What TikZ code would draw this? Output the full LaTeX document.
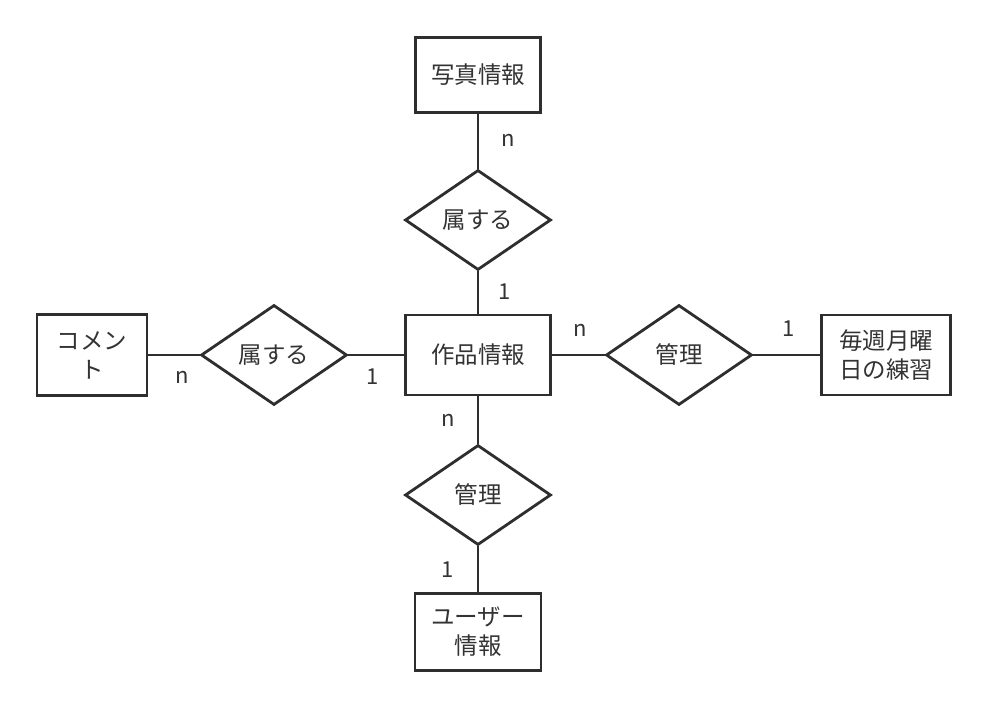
\documentclass[tikz,border=0pt]{standalone}
\usepackage{fontspec}
\setmainfont{Noto Sans CJK JP}
\usetikzlibrary{shapes.geometric}
\definecolor{erline}{HTML}{2E2E2E}
\definecolor{ertext}{HTML}{333333}
\begin{document}
\begin{tikzpicture}[
    x=1pt, y=-1pt,
    entity/.style={rectangle, draw=erline, line width=2.8pt, fill=white, text=ertext, inner sep=0pt, align=center, font=\fontsize{23.5}{29}\selectfont},
    relation/.style={diamond, draw=erline, line width=2.8pt, fill=white, text=ertext, inner sep=0pt, aspect=1.46, minimum width=146pt, minimum height=100pt, font=\fontsize{23.5}{29}\selectfont},
    link/.style={line width=2.8pt, draw=erline},
    card/.style={text=ertext, inner sep=0pt, font=\fontsize{22}{24}\selectfont},
]
\useasboundingbox[fill=white] (0,0) rectangle (987,708);
% entities
\node[entity, minimum width=125pt, minimum height=75pt] (photo) at (478,75) {写真情報};
\node[entity, minimum width=145pt, minimum height=80pt] (work) at (478,355) {作品情報};
\node[entity, minimum width=126pt, minimum height=77pt] (user) at (478,632) {ユーザー\\情報};
\node[entity, minimum width=110pt, minimum height=81pt] (comment) at (92,355) {コメン\\ト};
\node[entity, minimum width=129pt, minimum height=80pt] (weekly) at (886,355) {毎週月曜\\日の練習};
% relations
\node[relation] (belongphoto) at (478,220) {属する};
\node[relation] (belongcomment) at (274,355) {属する};
\node[relation] (managework) at (679,355) {管理};
\node[relation] (manageuser) at (478,495) {管理};
% links
\draw[link] (photo.south) -- (belongphoto.north);
\draw[link] (belongphoto.south) -- (work.north);
\draw[link] (comment.east) -- (belongcomment.west);
\draw[link] (belongcomment.east) -- (work.west);
\draw[link] (work.east) -- (managework.west);
\draw[link] (managework.east) -- (weekly.west);
\draw[link] (work.south) -- (manageuser.north);
\draw[link] (manageuser.south) -- (user.north);
% cardinalities
\node[card] (c1) at (508,140) {n};
\node[card] (c2) at (505,292) {1};
\node[card] (c3) at (182,377) {n};
\node[card] (c4) at (373,377) {1};
\node[card] (c5) at (580,330) {n};
\node[card] (c6) at (789,329) {1};
\node[card] (c7) at (448,420) {n};
\node[card] (c8) at (448,570) {1};
\end{tikzpicture}
\end{document}
